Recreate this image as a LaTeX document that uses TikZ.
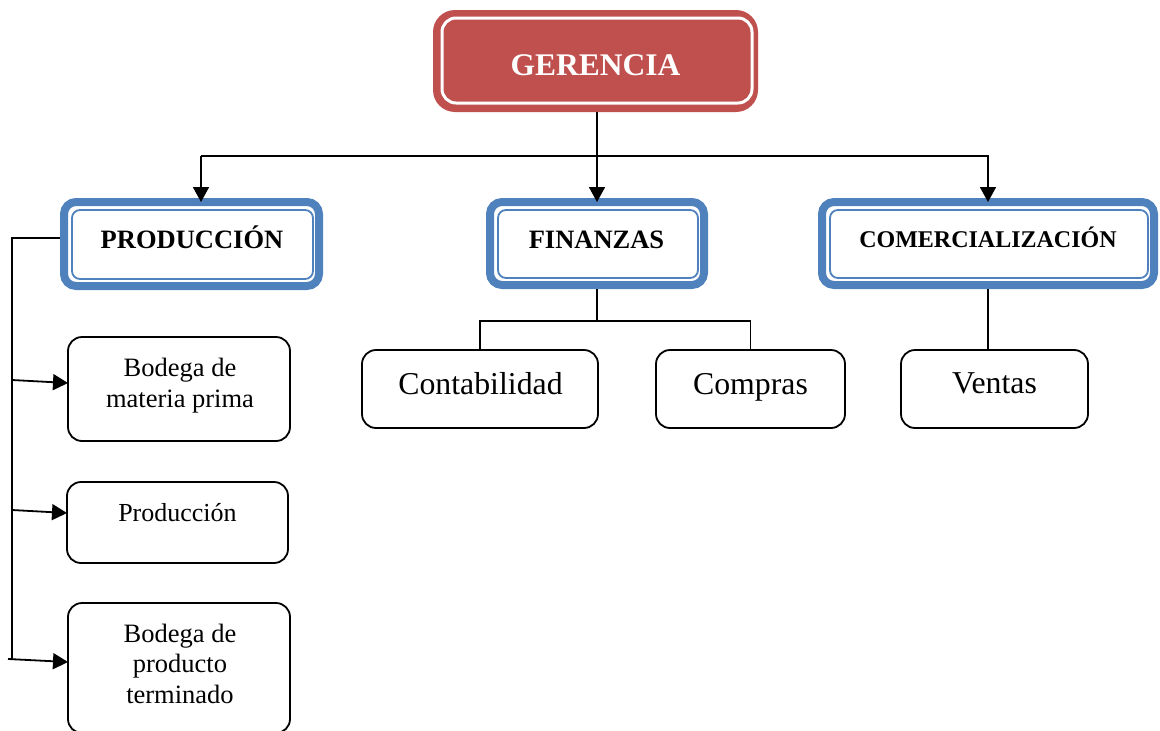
\documentclass[tikz,border=0pt]{standalone}
\usepackage{fontspec}
\setmainfont{Liberation Serif}
\usetikzlibrary{arrows.meta}
\definecolor{gred}{HTML}{C0504D}
\definecolor{gblue}{HTML}{4F81BD}
\begin{document}
\begin{tikzpicture}[x=1pt,y=-1pt,
  redbox/.style={fill=gred, draw=none, rounded corners=22pt, inner sep=0pt, outer sep=0pt},
  innerwhite/.style={draw=white, line width=3pt, rounded corners=14pt},
  bluebox/.style={draw=gblue, line width=8pt, fill=white, rounded corners=12pt, inner sep=0pt, outer sep=4pt},
  innerblue/.style={draw=gblue, line width=1.8pt, rounded corners=8pt},
  plainbox/.style={draw=black, line width=1.8pt, rounded corners=14pt, inner sep=0pt, outer sep=0pt},
  one/.style={inner sep=0pt, anchor=base},
  multi/.style={inner sep=0pt, align=center, anchor=base, font=\fontsize{26.5}{30.5}\selectfont},
  conn/.style={draw=black, line width=1.8pt},
  arr/.style={conn, -{Triangle[length=15pt,width=16pt]}},
]
\useasboundingbox (0,0) rectangle (1160,731);

% boxes
\node[redbox, minimum width=325pt, minimum height=102pt] (ger) at (595.5,61) {};
\draw[innerwhite] ([xshift=9pt,yshift=9pt]ger.south west) rectangle ([xshift=-6pt,yshift=-8pt]ger.north east);

\node[bluebox, minimum width=255pt, minimum height=84pt] (prod) at (191.5,244) {};
\draw[innerblue] ([xshift=12pt,yshift=11pt]prod.south west) rectangle ([xshift=-10pt,yshift=-12pt]prod.north east);
\node[bluebox, minimum width=214pt, minimum height=83pt] (fin) at (597,243.5) {};
\draw[innerblue] ([xshift=12pt,yshift=11pt]fin.south west) rectangle ([xshift=-10pt,yshift=-12pt]fin.north east);
\node[bluebox, minimum width=332pt, minimum height=83pt] (com) at (988,243.5) {};
\draw[innerblue] ([xshift=12pt,yshift=11pt]com.south west) rectangle ([xshift=-10pt,yshift=-12pt]com.north east);

\node[plainbox, minimum width=236pt, minimum height=78pt] (cont) at (480,389) {};
\node[plainbox, minimum width=189pt, minimum height=78pt] (comp) at (750.5,389) {};
\node[plainbox, minimum width=187pt, minimum height=78pt] (vent) at (994.5,389) {};
\node[plainbox, minimum width=222pt, minimum height=104pt] (bmp) at (179,389) {};
\node[plainbox, minimum width=221pt, minimum height=81pt] (prd) at (177.5,522.5) {};
\node[plainbox, minimum width=222pt, minimum height=130pt] (bpt) at (179,668) {};

% texts
\node[one, text=white, font=\fontsize{31.5}{36}\selectfont\bfseries] (gert) at (595.5,75) {GERENCIA};
\node[one, font=\fontsize{26.5}{31}\selectfont\bfseries] (prodt) at (192,248.6) {PRODUCCIÓN};
\node[one, font=\fontsize{26.5}{31}\selectfont\bfseries] (fint) at (596.5,248.6) {FINANZAS};
\node[one, font=\fontsize{24}{28}\selectfont\bfseries] (comt) at (988,247) {COMERCIALIZACIÓN};
\node[one, font=\fontsize{31.8}{37}\selectfont] (contt) at (480.5,394.5) {Contabilidad};
\node[one, font=\fontsize{31.8}{37}\selectfont] (compt) at (750.5,394.5) {Compras};
\node[one, font=\fontsize{31.8}{37}\selectfont] (ventt) at (994.5,393.5) {Ventas};
\node[one, font=\fontsize{26}{31}\selectfont] (prdt) at (177.5,521.5) {Producción};
\node[multi] (bmpt) at (180,407) {Bodega de\\materia prima};
\node[multi] (bptt) at (180,703) {Bodega de\\producto\\terminado};

% top connectors
\coordinate (pa) at (201,156);
\draw[arr, shorten >=-4pt] (ger.south -| fin.north) -- (fin.north);
\draw[arr, shorten >=-4pt] (pa) -- (pa |- prod.north);
\draw[arr, shorten >=-4pt] (pa) -| (com.north);

% finanzas children
\coordinate (fj) at (597,321);
\draw[conn, line width=1.5pt] (fin.south) -- (fj);
\draw[conn, line width=1.5pt] (cont.north) |- (fj) -| (comp.north);
\draw[conn, line width=1.5pt] (com.south) -- (com.south |- vent.north);

% left connectors
\coordinate (lt) at (12,238);
\coordinate (lb) at (12,660);
\coordinate (a1) at (12,380);
\coordinate (a2) at (12,510);
\coordinate (a3) at (8,659);
\draw[conn, line width=1.5pt] ([yshift=6pt]prod.west) -- (lt) -- (lb);
\draw[arr] (a1) -- ([yshift=6pt]bmp.west);
\draw[arr] (a2) -- ([yshift=9.5pt]prd.west);
\draw[arr] (a3) -- ([yshift=6pt]bpt.west);
\end{tikzpicture}
\end{document}
